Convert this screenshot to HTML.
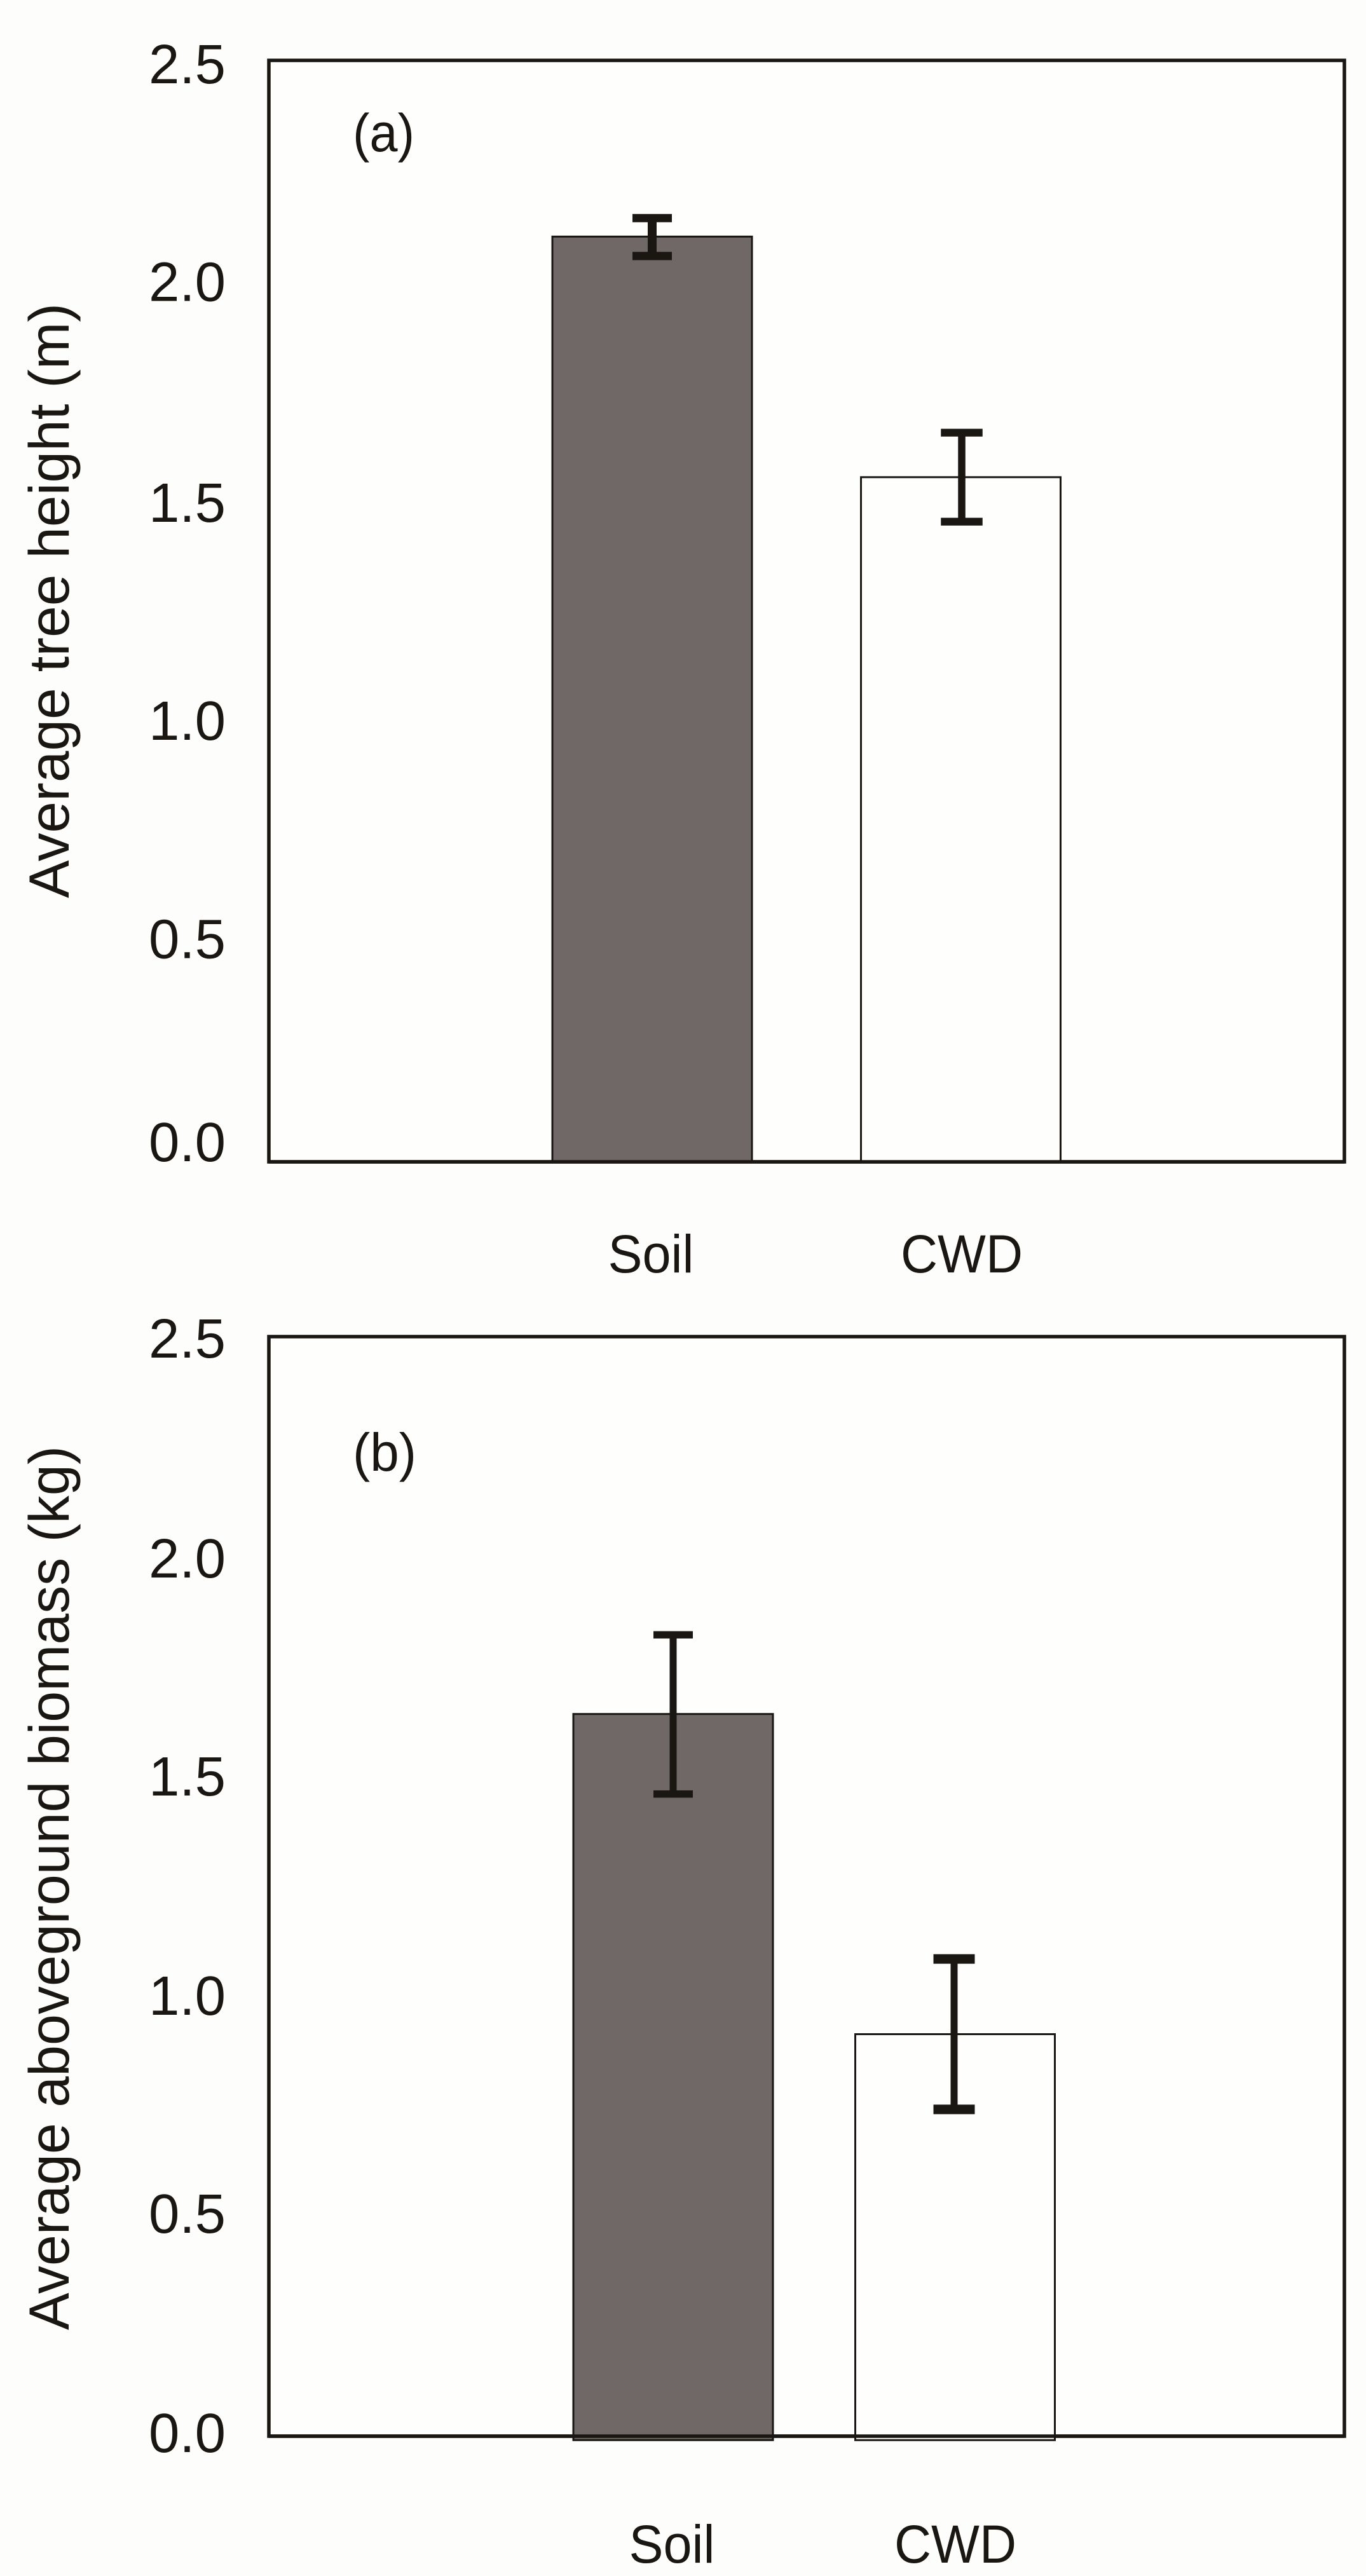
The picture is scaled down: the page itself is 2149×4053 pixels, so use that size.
<!DOCTYPE html>
<html lang="en">
<head>
<meta charset="utf-8">
<title>Average tree height and aboveground biomass on soil and CWD</title>
<style>
  html, body { margin: 0; padding: 0; background: #fdfdfc; }
  body { width: 2149px; height: 4053px; overflow: hidden; }
  svg { display: block; }
  text { font-family: "Liberation Sans", sans-serif; fill: #1a1712; }
</style>
</head>
<body>
<svg id="figure" xmlns="http://www.w3.org/2000/svg" width="2149" height="4053" viewBox="0 0 2149 4053">
  <rect x="0" y="0" width="2149" height="4053" fill="#fdfdfc"/>

  <g id="panel-a">
    <rect x="423" y="95" width="1692" height="1733" fill="#fefefd" stroke="#1a1712" stroke-width="5.5"/>
    <text x="555" y="238" font-size="84" textLength="97" lengthAdjust="spacingAndGlyphs">(a)</text>
    <text transform="translate(108,1413) rotate(-90)" font-size="89" textLength="936" lengthAdjust="spacingAndGlyphs">Average tree height (m)</text>
  </g>

  <g id="panel-b">
    <rect x="423" y="2103" width="1692" height="1730" fill="#fefefd" stroke="#1a1712" stroke-width="5.5"/>
    <text x="555" y="2314" font-size="84" textLength="100" lengthAdjust="spacingAndGlyphs">(b)</text>
    <text transform="translate(108,3666) rotate(-90)" font-size="89" textLength="1391" lengthAdjust="spacingAndGlyphs">Average aboveground biomass (kg)</text>
  </g>
</svg>

<script>
// Chart data
const categories = ['Soil', 'CWD'];
const tickLabels = ['0.0', '0.5', '1.0', '1.5', '2.0', '2.5'];
const tickValues = [0, 0.5, 1, 1.5, 2, 2.5];

const heightMeans = [2.10, 1.554];
const heightUpper = [2.142, 1.655];
const heightLower = [2.056, 1.453];

const biomassMeans = [1.642, 0.914];
const biomassUpper = [1.822, 1.085];
const biomassLower = [1.460, 0.743];

// Panel layout (pixels), separate from the data
const panelA = {
  id: 'panel-a', prefix: 'height',
  left: 423, right: 2115,
  top: 95, bottom: 1828, yMax: 2.5, base: 0,
  centers: [1026, 1511.5], barWidth: 314, errCenters: [1026, 1513],
  labelCenters: [1024, 1513], labelBaseline: 2002,
  stem: [14, 11.5], capWidth: [62, 65.5], capHeight: [13, 12.2],
  tickNudge: [-1, 26, 29, 33, 32, 36],
  means: heightMeans, upper: heightUpper, lower: heightLower
};
const panelB = {
  id: 'panel-b', prefix: 'biomass',
  left: 423, right: 2115,
  top: 2103, bottom: 3833, yMax: 2.5, base: -0.009,
  centers: [1059, 1502.5], barWidth: 314, errCenters: [1059, 1501],
  labelCenters: [1057, 1503], labelBaseline: 4032,
  stem: [11, 11], capWidth: [62, 65], capHeight: [11.5, 15],
  tickNudge: [25, 26, 29, 30, 33, 33],
  means: biomassMeans, upper: biomassUpper, lower: biomassLower
};

const NS = 'http://www.w3.org/2000/svg';
const INK = '#1a1712';
const BAR_FILLS = ['#6f6866', '#fefefd'];

function makeY(p) {
  return function (v) {
    return p.bottom - (v / p.yMax) * (p.bottom - p.top);
  };
}

function drawPanel(p) {
  const g = document.getElementById(p.id);
  const y = makeY(p);

  tickLabels.forEach(function (label, i) {
    const t = document.createElementNS(NS, 'text');
    
    
    t.setAttribute('x', 355);
    t.setAttribute('y', y(tickValues[i]) + p.tickNudge[i]);
    t.setAttribute('text-anchor', 'end');
    t.setAttribute('font-size', 87);
    t.textContent = label;
    g.appendChild(t);
  });

  categories.forEach(function (cat, i) {
    const cx = p.centers[i];
    const key = cat.toLowerCase();

    const bar = document.createElementNS(NS, 'rect');
    
    
    bar.setAttribute('x', cx - p.barWidth / 2);
    bar.setAttribute('y', y(p.means[i]));
    bar.setAttribute('width', p.barWidth);
    bar.setAttribute('height', y(p.base) - y(p.means[i]));
    bar.setAttribute('fill', BAR_FILLS[i]);
    bar.setAttribute('stroke', INK);
    bar.setAttribute('stroke-width', 3);
    g.appendChild(bar);

    const ex = p.errCenters[i];
    const hi = y(p.upper[i]);
    const lo = y(p.lower[i]);

    const stem = document.createElementNS(NS, 'rect');
    
    
    stem.setAttribute('x', ex - p.stem[i] / 2);
    stem.setAttribute('y', hi);
    stem.setAttribute('width', p.stem[i]);
    stem.setAttribute('height', lo - hi);
    stem.setAttribute('fill', INK);
    g.appendChild(stem);

    const capTop = document.createElementNS(NS, 'rect');
    
    
    capTop.setAttribute('x', ex - p.capWidth[i] / 2);
    capTop.setAttribute('y', hi - p.capHeight[i] / 2);
    capTop.setAttribute('width', p.capWidth[i]);
    capTop.setAttribute('height', p.capHeight[i]);
    capTop.setAttribute('fill', INK);
    g.appendChild(capTop);

    const capLow = document.createElementNS(NS, 'rect');
    
    
    capLow.setAttribute('x', ex - p.capWidth[i] / 2);
    capLow.setAttribute('y', lo - p.capHeight[i] / 2);
    capLow.setAttribute('width', p.capWidth[i]);
    capLow.setAttribute('height', p.capHeight[i]);
    capLow.setAttribute('fill', INK);
    g.appendChild(capLow);

    const t = document.createElementNS(NS, 'text');
    
    
    t.setAttribute('x', p.labelCenters[i]);
    t.setAttribute('y', p.labelBaseline);
    t.setAttribute('text-anchor', 'middle');
    t.setAttribute('font-size', 84);
    t.setAttribute('textLength', i === 0 ? 135 : 192);
    t.setAttribute('lengthAdjust', 'spacingAndGlyphs');
    t.textContent = cat;
    g.appendChild(t);
  });

  // The x axis sits on top of the bars
  const axis = document.createElementNS(NS, 'line');
  
  
  axis.setAttribute('x1', p.left);
  axis.setAttribute('x2', p.right);
  axis.setAttribute('y1', y(0));
  axis.setAttribute('y2', y(0));
  axis.setAttribute('stroke', INK);
  axis.setAttribute('stroke-width', 5.5);
  g.appendChild(axis);
}

drawPanel(panelA);
drawPanel(panelB);
</script>
</body>
</html>
